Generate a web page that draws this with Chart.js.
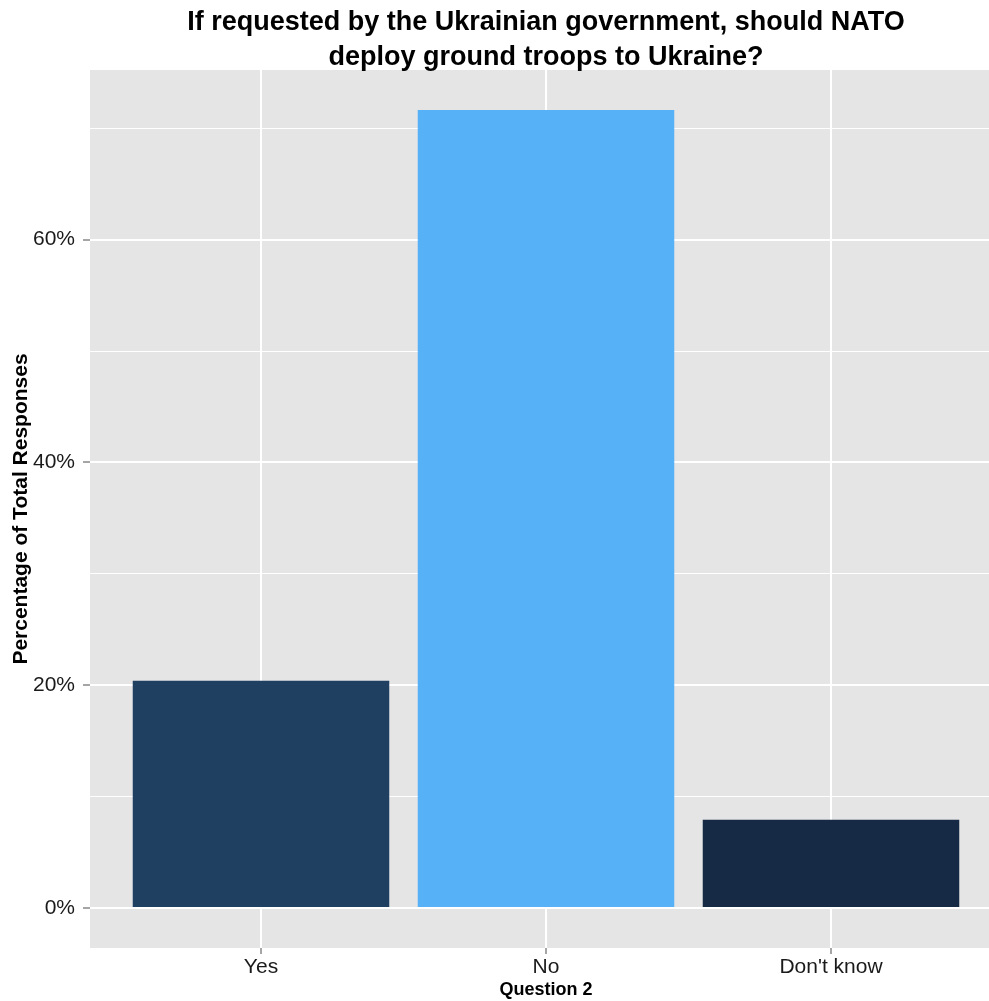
<!DOCTYPE html>
<html>
<head>
<meta charset="utf-8">
<script src="https://cdn.jsdelivr.net/npm/chart.js@4.4.1/dist/chart.umd.min.js"></script>
<style>
  html, body { margin: 0; padding: 0; background: #ffffff; overflow: hidden; }
  #wrap { position: relative; width: 1002px; height: 1001px; }
</style>
</head>
<body>
<div id="wrap"><canvas id="chart"></canvas></div>
<script>
const titleLines = ["If requested by the Ukrainian government, should NATO", "deploy ground troops to Ukraine?"];
const categories = ["Yes", "No", "Don't know"];
const percentages = [20.4, 71.65, 7.94];
const barColors = ["#1f4060", "#56b1f7", "#172a45"];
const yTicks = [0, 10, 20, 30, 40, 50, 60, 70];
const yLabelled = [0, 20, 40, 60];

const fontFamily = "'Liberation Sans', Arial, Helvetica, sans-serif";

// ggplot-style grey panel behind the chart area
const panelBackground = {
  id: "panelBackground",
  beforeDraw(chart) {
    const { ctx, chartArea } = chart;
    ctx.save();
    ctx.fillStyle = "#e5e5e5";
    ctx.fillRect(chartArea.left, chartArea.top, chartArea.right - chartArea.left, chartArea.bottom - chartArea.top);
    ctx.restore();
  }
};

// title centred over the panel rather than the whole canvas
const panelTitle = {
  id: "panelTitle",
  afterDraw(chart) {
    const { ctx, chartArea } = chart;
    const cx = (chartArea.left + chartArea.right) / 2;
    ctx.save();
    ctx.fillStyle = "#000000";
    ctx.font = "bold 27px " + fontFamily;
    ctx.textAlign = "center";
    ctx.textBaseline = "middle";
    titleLines.forEach((line, i) => ctx.fillText(line, cx, 23 + i * 35));
    ctx.restore();
  }
};

const maxVal = Math.max(...percentages);
const pad = maxVal * 0.05;

const ctx = document.getElementById("chart").getContext("2d");
new Chart(ctx, {
  type: "bar",
  data: {
    datasets: [{
      data: percentages.map((v, i) => ({ x: i, y: v })),
      backgroundColor: barColors,
      borderWidth: 0,
      barPercentage: 0.9,
      categoryPercentage: 1
    }]
  },
  options: {
    responsive: true,
    maintainAspectRatio: false,
    animation: false,
    layout: { padding: { top: 70, left: 0, right: 0, bottom: 0 } },
    plugins: {
      legend: { display: false },
      tooltip: { enabled: false }
    },
    scales: {
      x: {
        type: "linear",
        offset: false,
        min: -0.6,
        max: categories.length - 0.4,
        afterBuildTicks: (scale) => { scale.ticks = categories.map((c, i) => ({ value: i })); },
        afterFit: (scale) => { scale.height = 53; },
        border: { display: false },
        grid: {
          offset: false,
          color: "#ffffff",
          lineWidth: 2,
          drawTicks: true,
          tickLength: 6,
          tickColor: "#4d4d4d",
          tickWidth: 1
        },
        ticks: {
          padding: 1,
          color: "#1a1a1a",
          font: { family: fontFamily, size: 21 },
          callback: (value) => categories[value]
        },
        title: {
          display: true,
          text: "Question 2",
          color: "#000000",
          font: { family: fontFamily, size: 18, weight: "bold" },
          padding: { top: -4, bottom: 0 }
        }
      },
      y: {
        min: -pad,
        max: maxVal + pad,
        afterBuildTicks: (scale) => { scale.ticks = yTicks.map((v) => ({ value: v })); },
        afterFit: (scale) => { scale.width = 90; },
        border: { display: false },
        grid: {
          color: "#ffffff",
          lineWidth: (c) => (yLabelled.includes(c.tick.value) ? 2 : 1),
          tickLength: 7,
          tickColor: (c) => (yLabelled.includes(c.tick.value) ? "#4d4d4d" : "rgba(0,0,0,0)"),
          tickWidth: 1
        },
        ticks: {
          padding: 8,
          color: "#1a1a1a",
          font: { family: fontFamily, size: 21 },
          callback: (value) => (yLabelled.includes(value) ? value + "%" : "")
        },
        title: {
          display: true,
          text: "Percentage of Total Responses",
          color: "#000000",
          font: { family: fontFamily, size: 21, weight: "bold" },
          padding: { top: 9, bottom: 0 }
        }
      }
    }
  },
  plugins: [panelBackground, panelTitle]
});
</script>
</body>
</html>
